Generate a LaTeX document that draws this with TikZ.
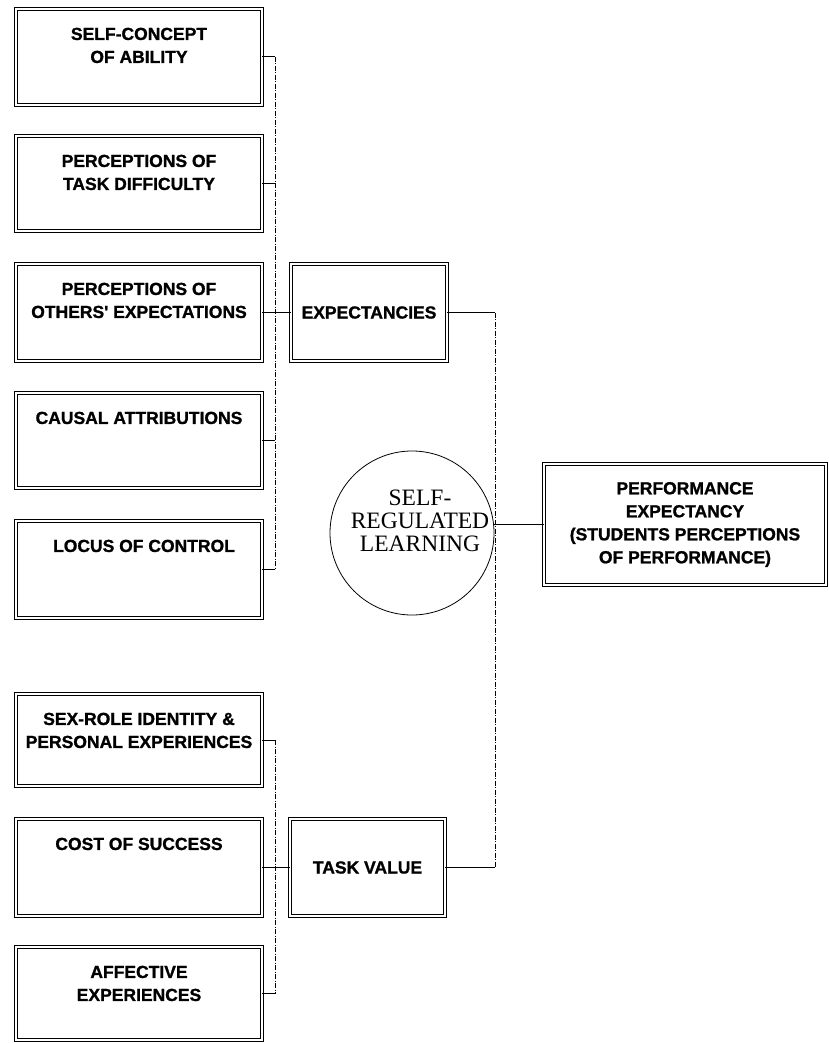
\documentclass[tikz,border=0pt]{standalone}
\usepackage{fontspec}
\setmainfont{Liberation Serif}
\newfontfamily\labelfont{Liberation Sans}[BoldFeatures={FakeBold=1.2}]
\begin{document}
\begin{tikzpicture}[x=1pt,y=-1pt,
  frame/.style={draw, double, line width=1.3pt, double distance=1.8pt, inner sep=0pt},
  leftbox/.style={frame, minimum width=245.6pt},
  boxfont/.style={font=\labelfont\bfseries\fontsize{17.5}{23}\selectfont, align=center},
  caption/.style={boxfont, inner sep=0pt, anchor=north},
  link/.style={line width=1pt},
  bus/.style={line width=0.9pt, dash pattern=on 5pt off 1.5pt on 1pt off 1.5pt}]
\useasboundingbox (0,0) rectangle (829,1043);

% factors feeding expectancies
\node[leftbox, minimum height=95.6pt] (b1) at (139,57) {};
\node[leftbox, minimum height=94.6pt] (b2) at (139,183.5) {};
\node[leftbox, minimum height=96.6pt] (b3) at (139,312.5) {};
\node[leftbox, minimum height=94.6pt] (b4) at (139,440.5) {};
\node[leftbox, minimum height=96.6pt] (b5) at (139,569.5) {};
% factors feeding task value
\node[leftbox, minimum height=91.6pt] (b6) at (139,740) {};
\node[leftbox, minimum height=96.6pt] (b7) at (139,867.5) {};
\node[leftbox, minimum height=92.6pt] (b8) at (139,993.5) {};

\node[caption] (t1) at ([yshift=-19pt]b1.north) {SELF-CONCEPT\\OF ABILITY};
\node[caption] (t2) at ([yshift=-19pt]b2.north) {PERCEPTIONS OF\\TASK DIFFICULTY};
\node[caption] (t3) at ([yshift=-19pt]b3.north) {PERCEPTIONS OF\\OTHERS' EXPECTATIONS};
\node[caption] (t4) at ([yshift=-19pt]b4.north) {CAUSAL ATTRIBUTIONS};
\node[caption] (t5) at ([yshift=-19pt,xshift=5pt]b5.north) {LOCUS OF CONTROL};
\node[caption] (t6) at ([yshift=-19pt]b6.north) {SEX-ROLE IDENTITY \&\\PERSONAL EXPERIENCES};
\node[caption] (t7) at ([yshift=-19pt]b7.north) {COST OF SUCCESS};
\node[caption] (t8) at ([yshift=-19pt]b8.north) {AFFECTIVE\\EXPERIENCES};

% middle column
\node[frame, boxfont, minimum width=155.6pt, minimum height=96.6pt] (exp) at (369,312.5) {EXPECTANCIES};
\node[frame, boxfont, minimum width=154.6pt, minimum height=96.6pt] (tv) at (367.5,867.5) {TASK VALUE};
\node[draw, circle, line width=0.8pt, minimum size=164pt, inner sep=0pt] (srl) at (412,533) {};
\node[font=\fontsize{23.5}{23}\selectfont, align=center, inner sep=0pt] (srltext) at (420,521) {SELF-\\REGULATED\\LEARNING};

% outcome
\node[frame, boxfont, minimum width=281.6pt, minimum height=120.6pt] (perf) at (685,524.5)
  {PERFORMANCE\\EXPECTANCY\\(STUDENTS PERCEPTIONS\\OF PERFORMANCE)};

% connectors
\coordinate (busA) at (275,0);
\coordinate (busB) at (495,0);
\draw[bus] (b1.east -| busA) -- (b5.east -| busA);
\foreach \b in {b1,b2,b4,b5} \draw[link] (\b.east) -- (\b.east -| busA);
\draw[link] (b3.east) -- (exp.west);

\draw[bus] (b6.east -| busA) -- (b8.east -| busA);
\foreach \b in {b6,b8} \draw[link] (\b.east) -- (\b.east -| busA);
\draw[link] (b7.east) -- (tv.west);

\draw[link] (exp.east) -- (exp.east -| busB);
\draw[bus] (exp.east -| busB) -- (tv.east -| busB);
\draw[link] (tv.east) -- (tv.east -| busB);
\draw[link] (perf.west) -- (perf.west -| srl.east);
\end{tikzpicture}
\end{document}
